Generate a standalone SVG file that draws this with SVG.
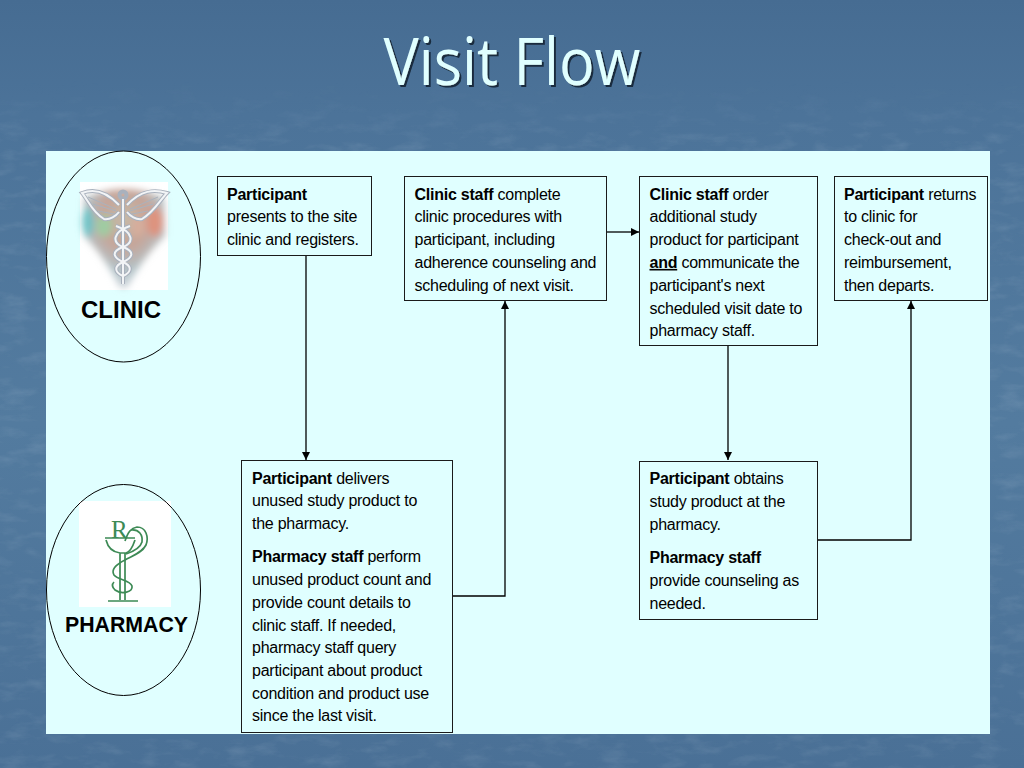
<svg xmlns="http://www.w3.org/2000/svg" width="1024" height="768" viewBox="0 0 1024 768">
<style>
text{font-family:"Liberation Sans",Arial,sans-serif}
.t{font-size:16px;letter-spacing:-.25px;fill:#000}
.b{font-weight:bold}
.box{fill:#e0ffff;stroke:#1a1a1a;stroke-width:1}
.c{fill:none;stroke:#000;stroke-width:1.300}
.lab{font-size:24px;font-weight:bold;text-anchor:middle}
.ell{fill:none;stroke:#000;stroke-width:1}
.title{font-family:"Open Sans","Noto Sans",sans-serif;font-size:65px;text-anchor:middle;fill:#e0ffff}
.g{fill:none;stroke:#3d8a55;stroke-width:1.700}
.wo{fill:none;stroke:#a9b1bd;stroke-width:4}
.wi{fill:none;stroke:#f2f4f6;stroke-width:2}
.f{fill:none;stroke:#aab2bd;stroke-width:1}
</style>
<defs>
<marker id="a" markerWidth="9" markerHeight="9" refX="8" refY="4" orient="auto" markerUnits="userSpaceOnUse"><path d="M0,0L8,4L0,8Z" fill="#000"/></marker>
<linearGradient id="bg" x1="0" y1="0" x2="0" y2="1"><stop offset="0" stop-color="#466c92"/><stop offset=".15" stop-color="#4c7399"/><stop offset=".55" stop-color="#537b9f"/><stop offset="1" stop-color="#4a7096"/></linearGradient>
<linearGradient id="fd" x1="0" y1="0" x2="0" y2="1"><stop offset="0" stop-color="#fff" stop-opacity="0"/><stop offset=".1" stop-color="#fff"/><stop offset="1" stop-color="#fff"/></linearGradient>
<mask id="m" maskUnits="userSpaceOnUse" x="0" y="80" width="1024" height="688"><rect y="80" width="1024" height="688" fill="url(#fd)"/></mask>
<filter id="tex" x="0" y="0" width="1" height="1"><feTurbulence type="fractalNoise" baseFrequency=".035 .09" numOctaves="4" seed="11"/><feColorMatrix values="0 0 0 0 .72  0 0 0 0 .80  0 0 0 0 .88  0 0 0 1.200 -.55"/></filter>
<filter id="bl" x="-20%" y="-20%" width="140%" height="140%"><feGaussianBlur stdDeviation="3.500"/></filter>
<filter id="sf" x="-5%" y="-5%" width="110%" height="110%"><feGaussianBlur stdDeviation=".5"/></filter>
<filter id="sh" x="-5%" y="-10%" width="110%" height="120%"><feDropShadow dx="2" dy="2" stdDeviation=".4" flood-color="#14263a" flood-opacity=".95"/></filter>
<radialGradient id="hl" cx=".5" cy=".3" r=".7"><stop offset="0" stop-color="#c4bba9"/><stop offset=".4" stop-color="#c6a498"/><stop offset=".75" stop-color="#b2c3c8"/><stop offset="1" stop-color="#d0d6dc"/></radialGradient>
</defs>
<rect width="1024" height="768" fill="url(#bg)"/>
<g mask="url(#m)"><rect y="80" width="1024" height="688" filter="url(#tex)" opacity=".2"/></g>
<text class="title" x="512" y="85" textLength="257" lengthAdjust="spacingAndGlyphs" filter="url(#sh)">Visit Flow</text>
<rect x="46" y="151" width="944" height="583" fill="#e0ffff"/>

<g id="clinic">
<rect x="80" y="182" width="88" height="108" fill="#fff"/>
<g filter="url(#bl)">
<path d="M84,198Q124,180 164,198L165,236Q142,258 127,288L120,288Q106,258 84,236Z" fill="url(#hl)"/>
<ellipse cx="88" cy="222" rx="6" ry="15" fill="#6fc3c6"/><ellipse cx="155" cy="222" rx="8" ry="15" fill="#de937e"/><ellipse cx="104" cy="226" rx="8" ry="11" fill="#9fcca2"/><ellipse cx="138" cy="226" rx="7" ry="11" fill="#d6ad9c"/>
</g>
<g filter="url(#sf)">
<path class="wo" d="M123,199V284"/>
<path class="wo" d="M119,205C105,190 92,189 82,193C88,200 92,212 104,219C110,220 116,216 119,212M127,205C141,190 154,189 167,193C160,200 154,212 142,219C136,220 130,216 127,212"/>
<path class="wo" d="M130,226C112,232 112,243 123,247C136,252 132,258 123,262C114,266 114,272 123,276M116,226C134,232 134,243 123,247C110,252 114,258 123,262C132,266 132,272 123,276"/>
<circle class="wo" cx="123" cy="195" r="3.500"/>
<path class="wi" d="M123,199V284"/>
<path class="wi" d="M119,205C105,190 92,189 82,193C88,200 92,212 104,219C110,220 116,216 119,212M127,205C141,190 154,189 167,193C160,200 154,212 142,219C136,220 130,216 127,212"/>
<path class="f" d="M88,197L116,209M93,204L116,211M98,211L114,214M158,197L130,209M153,204L130,211M148,211L132,214"/>
<path class="wi" d="M130,226C112,232 112,243 123,247C136,252 132,258 123,262C114,266 114,272 123,276M116,226C134,232 134,243 123,247C110,252 114,258 123,262C132,266 132,272 123,276"/>
</g>
<ellipse class="ell" cx="123.500" cy="256.500" rx="77" ry="105.500"/>
<text class="lab" x="121" y="318">CLINIC</text>
</g>

<g id="pharmacy">
<rect x="79" y="501" width="92" height="106" fill="#fff"/>
<path class="g" d="M105,538H135M106,540C108,548 112,552 120,553H126C130,552 133,546 135,540M120,553V600M125,553V600M108,601H138"/>
<path class="g" d="M125,541C128,532 131,528 137,527C146,527 149,537 146,545C142,553 132,556 125,560C115,565 111,570 114,575C118,580 130,580 132,586C133,592 122,595 115,590C112,587 112,584 114,582"/>
<path class="g" d="M131,530C139,529 143,535 142,542C140,549 132,552 126,554"/>
<text x="111" y="538" font-size="25" fill="#3d8a55" style="font-family:'Liberation Serif',serif">R</text>
<ellipse class="ell" cx="123.500" cy="590" rx="77" ry="105.500"/>
<text class="lab" x="126.500" y="632" style="font-size:21.300px">PHARMACY</text>
</g>

<g id="connectors">
<path class="c" marker-end="url(#a)" d="M306,256V460"/>
<path class="c" marker-end="url(#a)" d="M452,596H505V301"/>
<path class="c" marker-end="url(#a)" d="M607,232H639"/>
<path class="c" marker-end="url(#a)" d="M728,346V460"/>
<path class="c" marker-end="url(#a)" d="M818,540H911V301"/>
</g>

<g id="n1">
<rect class="box" x="217.500" y="176.500" width="154" height="79"/>
<text class="t" x="227" y="199.500"><tspan class="b">Participant</tspan><tspan x="227" dy="22.800">presents to the site</tspan><tspan x="227" dy="22.800">clinic and registers.</tspan></text>
</g>
<g id="n2">
<rect class="box" x="404.500" y="176.500" width="202" height="124"/>
<text class="t" x="414.500" y="199.500"><tspan class="b">Clinic staff</tspan> complete<tspan x="414.500" dy="22.800">clinic procedures with</tspan><tspan x="414.500" dy="22.800">participant, including</tspan><tspan x="414.500" dy="22.800">adherence counseling and</tspan><tspan x="414.500" dy="22.800">scheduling of next visit.</tspan></text>
</g>
<g id="n3">
<rect class="box" x="639.500" y="176.500" width="178" height="169"/>
<text class="t" x="649.500" y="199.500"><tspan class="b">Clinic staff</tspan> order<tspan x="649.500" dy="22.800">additional study</tspan><tspan x="649.500" dy="22.800">product for participant</tspan><tspan x="649.500" dy="22.800" class="b" text-decoration="underline">and</tspan> communicate the<tspan x="649.500" dy="22.800">participant's next</tspan><tspan x="649.500" dy="22.800">scheduled visit date to</tspan><tspan x="649.500" dy="22.800">pharmacy staff.</tspan></text>
</g>
<g id="n4">
<rect class="box" x="834.500" y="176.500" width="153" height="124"/>
<text class="t" x="844" y="199.500"><tspan class="b">Participant</tspan> returns<tspan x="844" dy="22.800">to clinic for</tspan><tspan x="844" dy="22.800">check-out and</tspan><tspan x="844" dy="22.800">reimbursement,</tspan><tspan x="844" dy="22.800">then departs.</tspan></text>
</g>
<g id="n5">
<rect class="box" x="241.500" y="460.500" width="211" height="272"/>
<text class="t" x="252" y="483.500"><tspan class="b">Participant</tspan> delivers<tspan x="252" dy="22.700">unused study product to</tspan><tspan x="252" dy="22.700">the pharmacy.</tspan><tspan x="252" dy="33.500" class="b">Pharmacy staff</tspan> perform<tspan x="252" dy="22.700">unused product count and</tspan><tspan x="252" dy="22.700">provide count details to</tspan><tspan x="252" dy="22.700">clinic staff. If needed,</tspan><tspan x="252" dy="22.700">pharmacy staff query</tspan><tspan x="252" dy="22.700">participant about product</tspan><tspan x="252" dy="22.700">condition and product use</tspan><tspan x="252" dy="22.700">since the last visit.</tspan></text>
</g>
<g id="n6">
<rect class="box" x="639.500" y="461.500" width="178" height="158"/>
<text class="t" x="649.500" y="484.300"><tspan class="b">Participant</tspan> obtains<tspan x="649.500" dy="22.700">study product at the</tspan><tspan x="649.500" dy="22.700">pharmacy.</tspan><tspan x="649.500" dy="33.500" class="b">Pharmacy staff</tspan><tspan x="649.500" dy="22.700">provide counseling as</tspan><tspan x="649.500" dy="22.700">needed.</tspan></text>
</g>
</svg>
